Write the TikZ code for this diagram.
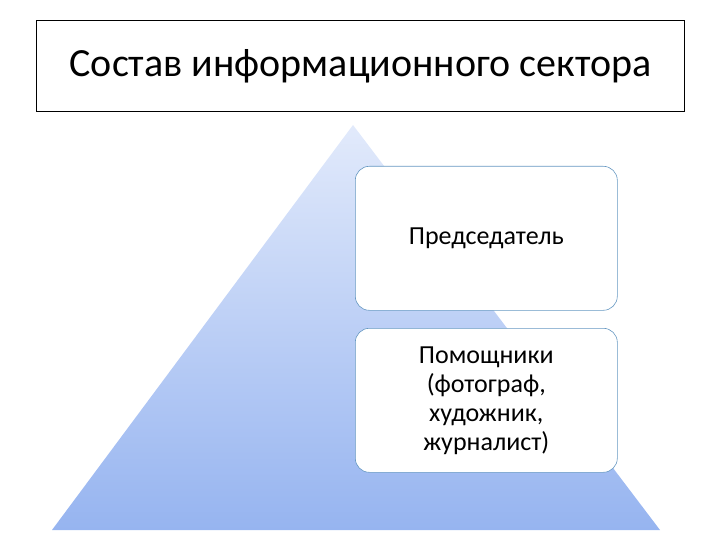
\documentclass[tikz,border=0pt]{standalone}
\usepackage{fontspec}
\setmainfont{Carlito}
\begin{document}
\begin{tikzpicture}[x=1pt,y=-1pt,
  tbox/.style={draw=black,line width=1.2pt,fill=white},
  lvl/.style={draw=blue!45!cyan!60!black!60,fill=white,rounded corners=14pt,line width=0.6pt,align=center,font=\fontsize{26}{29}\selectfont,minimum width=262pt,minimum height=144pt,inner sep=0pt}]
\useasboundingbox (0,0) rectangle (720,540);
\node[tbox,minimum width=648pt,minimum height=91pt,anchor=north west,font=\fontsize{40}{46}\selectfont] (title) at (36,20) {Состав информационного сектора};
\shade[top color={rgb,255:red,226;green,234;blue,251},bottom color={rgb,255:red,150;green,180;blue,240}] (353,125) -- (660,530) -- (52,530) -- cycle;
\node[lvl,anchor=north west] (a) at (355,166) {Председатель};
\node[lvl,anchor=north west] (b) at (355,328) {Помощники\\(фотограф,\\художник,\\журналист)};
\end{tikzpicture}
\end{document}
